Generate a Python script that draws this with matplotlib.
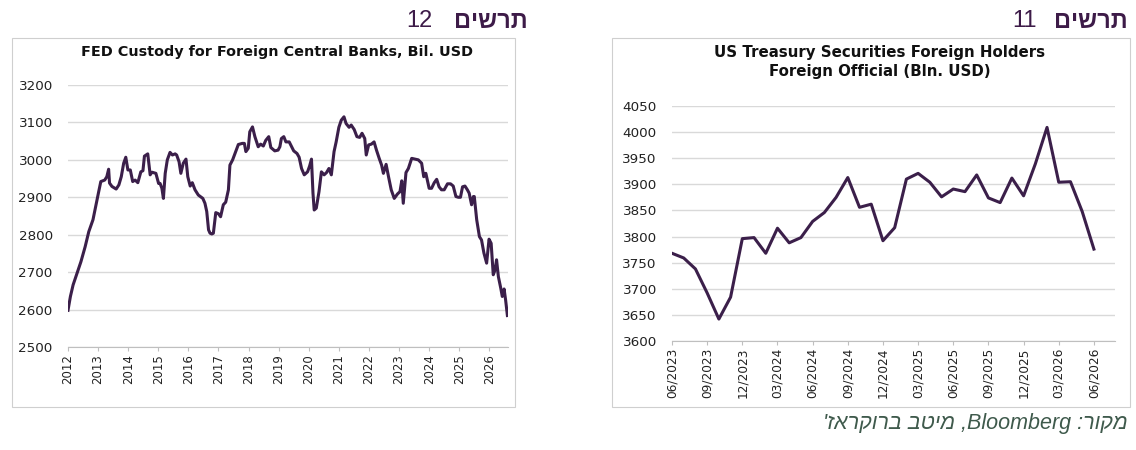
import numpy as np
import matplotlib.pyplot as plt
from matplotlib.patches import Rectangle

# chart 12: FED custody, decimal year / bil. USD
fed_year = [2012.00, 2012.08, 2012.17, 2012.30, 2012.43, 2012.57, 2012.69, 2012.83, 2012.94, 2013.02,
            2013.09, 2013.22, 2013.29, 2013.35, 2013.38, 2013.46, 2013.60, 2013.69, 2013.77, 2013.85,
            2013.92, 2013.99, 2014.07, 2014.15, 2014.23, 2014.32, 2014.42, 2014.49, 2014.54, 2014.65,
            2014.73, 2014.79, 2014.92, 2015.01, 2015.06, 2015.12, 2015.17, 2015.23, 2015.30, 2015.39,
            2015.47, 2015.56, 2015.61, 2015.69, 2015.75, 2015.83, 2015.92, 2015.98, 2016.06, 2016.13,
            2016.22, 2016.33, 2016.48, 2016.55, 2016.61, 2016.67, 2016.72, 2016.78, 2016.83, 2016.91,
            2017.00, 2017.07, 2017.16, 2017.24, 2017.33, 2017.38, 2017.47, 2017.55, 2017.66, 2017.79,
            2017.86, 2017.91, 2017.99, 2018.04, 2018.13, 2018.21, 2018.32, 2018.40, 2018.49, 2018.57,
            2018.67, 2018.74, 2018.87, 2018.98, 2019.04, 2019.09, 2019.17, 2019.24, 2019.35, 2019.43,
            2019.50, 2019.61, 2019.68, 2019.76, 2019.85, 2019.96, 2020.03, 2020.09, 2020.14, 2020.18,
            2020.25, 2020.34, 2020.42, 2020.51, 2020.59, 2020.67, 2020.75, 2020.84, 2020.91, 2021.00,
            2021.08, 2021.17, 2021.24, 2021.34, 2021.41, 2021.51, 2021.60, 2021.69, 2021.77, 2021.86,
            2021.91, 2021.99, 2022.08, 2022.17, 2022.25, 2022.34, 2022.42, 2022.48, 2022.57, 2022.65,
            2022.74, 2022.84, 2022.95, 2023.03, 2023.09, 2023.14, 2023.23, 2023.31, 2023.42, 2023.53,
            2023.64, 2023.75, 2023.82, 2023.89, 2024.00, 2024.08, 2024.17, 2024.25, 2024.33, 2024.41,
            2024.50, 2024.61, 2024.71, 2024.80, 2024.89, 2024.97, 2025.04, 2025.11, 2025.19, 2025.27,
            2025.33, 2025.41, 2025.47, 2025.50, 2025.58, 2025.67, 2025.74, 2025.82, 2025.91, 2025.99,
            2026.06, 2026.13, 2026.19, 2026.24, 2026.30, 2026.38, 2026.43, 2026.49, 2026.54, 2026.60]
fed_value = [2598, 2635, 2666, 2697, 2728, 2768, 2808, 2840, 2884, 2915,
             2942, 2946, 2955, 2975, 2938, 2929, 2922, 2933, 2955, 2991,
             3007, 2973, 2973, 2942, 2946, 2939, 2968, 2971, 3010, 3016,
             2960, 2967, 2964, 2937, 2937, 2924, 2897, 2964, 3000, 3020,
             3013, 3016, 3013, 2995, 2964, 2991, 3002, 2955, 2930, 2939,
             2920, 2906, 2897, 2884, 2862, 2813, 2804, 2802, 2804, 2859,
             2856, 2848, 2880, 2887, 2920, 2986, 3000, 3017, 3041, 3044,
             3044, 3022, 3031, 3075, 3088, 3062, 3035, 3042, 3037, 3052,
             3062, 3033, 3024, 3026, 3035, 3057, 3062, 3048, 3048, 3035,
             3024, 3017, 3007, 2977, 2960, 2968, 2984, 3002, 2911, 2866,
             2871, 2915, 2968, 2960, 2966, 2977, 2960, 3022, 3048, 3087,
             3106, 3115, 3097, 3087, 3093, 3081, 3062, 3060, 3071, 3057,
             3013, 3040, 3042, 3048, 3026, 3004, 2986, 2964, 2988, 2955,
             2920, 2897, 2909, 2915, 2944, 2884, 2966, 2977, 3004, 3002,
             3000, 2991, 2955, 2964, 2924, 2924, 2939, 2948, 2928, 2920,
             2920, 2936, 2936, 2930, 2902, 2900, 2900, 2928, 2930, 2920,
             2911, 2880, 2902, 2902, 2840, 2795, 2786, 2751, 2724, 2788,
             2777, 2693, 2706, 2733, 2688, 2657, 2635, 2655, 2626, 2584]
fed_years_ticks = list(range(2012, 2027))

# chart 11: US treasuries, foreign official holders, monthly from 06/2023
ust_value = [3768, 3759, 3738, 3692, 3642, 3684, 3796, 3798, 3768, 3816,
             3788, 3798, 3829, 3846, 3875, 3913, 3856, 3862, 3792, 3817,
             3910, 3921, 3904, 3876, 3891, 3886, 3918, 3874, 3865, 3912,
             3878, 3939, 4009, 3904, 3905, 3848, 3776]
ust_labels = ['06/2023', '09/2023', '12/2023', '03/2024', '06/2024', '09/2024', '12/2024',
              '03/2025', '06/2025', '09/2025', '12/2025', '03/2026', '06/2026']

line_color = '#3b1f4a'
head_color = '#3d1b48'
grid_color = '#d9d9d9'
W, H = 1136, 450

fig = plt.figure(figsize=(W / 100, H / 100), dpi=100)

def box(x0, y0, x1, y1):
    # panel frame in pixel coords (y from top)
    fig.patches.append(Rectangle((x0 / W, 1 - y1 / H), (x1 - x0) / W, (y1 - y0) / H,
                                 transform=fig.transFigure, fill=False,
                                 edgecolor='#cfcfcf', lw=0.8))

def axes_px(x0, y0, x1, y1):
    return fig.add_axes([x0 / W, 1 - y1 / H, (x1 - x0) / W, (y1 - y0) / H])

def style(ax, xsize):
    for s in ['top', 'right', 'left']:
        ax.spines[s].set_visible(False)
    ax.spines['bottom'].set_color('#bfbfbf')
    ax.yaxis.grid(True, color=grid_color, lw=1)
    ax.set_axisbelow(True)
    ax.tick_params(axis='y', length=0, labelsize=9.7, colors='#222222', pad=11)
    ax.tick_params(axis='x', length=3, color='#bfbfbf', labelsize=xsize, colors='#222222',
                   labelrotation=90, pad=2)

box(12, 38, 515, 407)
box(612, 38, 1130, 407)

# left chart
ax1 = axes_px(68, 85, 508, 347)
ax1.plot(fed_year, fed_value, color=line_color, lw=2.2, solid_joinstyle='round')
ax1.set_xlim(2012, 2026.62)
ax1.set_ylim(2500, 3200)
ax1.set_yticks(range(2500, 3201, 100))
ax1.set_xticks(fed_years_ticks)
style(ax1, 8.5)
fig.text(277 / W, 1 - 52 / H, 'FED Custody for Foreign Central Banks, Bil. USD',
         ha='center', va='center', fontsize=10.4, fontweight='bold', color='#111111')

# right chart
months = np.arange(len(ust_value))
ax2 = axes_px(672, 106, 1115, 341)
ax2.plot(months, ust_value, color=line_color, lw=2.2, solid_joinstyle='round')
ax2.set_xlim(0, 37.8)
ax2.set_ylim(3600, 4050)
ax2.set_yticks(range(3600, 4051, 50))
ax2.set_xticks(np.arange(0, 37, 3))
ax2.set_xticklabels(ust_labels)
style(ax2, 8.7)
fig.text(880 / W, 1 - 62 / H, 'US Treasury Securities Foreign Holders\nForeign Official (Bln. USD)',
         ha='center', va='center', fontsize=10.8, fontweight='bold', color='#111111',
         linespacing=1.3)

# headers (Hebrew written in visual order)
heb = ['Liberation Sans Narrow', 'Liberation Sans', 'DejaVu Sans']
fig.text(528 / W, 1 - 21 / H, 'םישרת', ha='right', va='center', fontsize=17,
         fontweight='bold', color=head_color, family=heb)
fig.text(432 / W, 1 - 21 / H, '12', ha='right', va='center', fontsize=17,
         color=head_color, family=heb)
fig.text(1128 / W, 1 - 21 / H, 'םישרת', ha='right', va='center', fontsize=17,
         fontweight='bold', color=head_color, family=heb)
fig.text(1037 / W, 1 - 21 / H, '11', ha='right', va='center', fontsize=17,
         color=head_color, family=heb)

fig.text(1128 / W, 1 - 424 / H, "'זארקורב בטימ ,Bloomberg :רוקמ", ha='right', va='center',
         fontsize=15.5, style='italic', color='#3f5a4c', family=['Liberation Sans', 'DejaVu Sans'])

fig.savefig('out.png', dpi=100)
